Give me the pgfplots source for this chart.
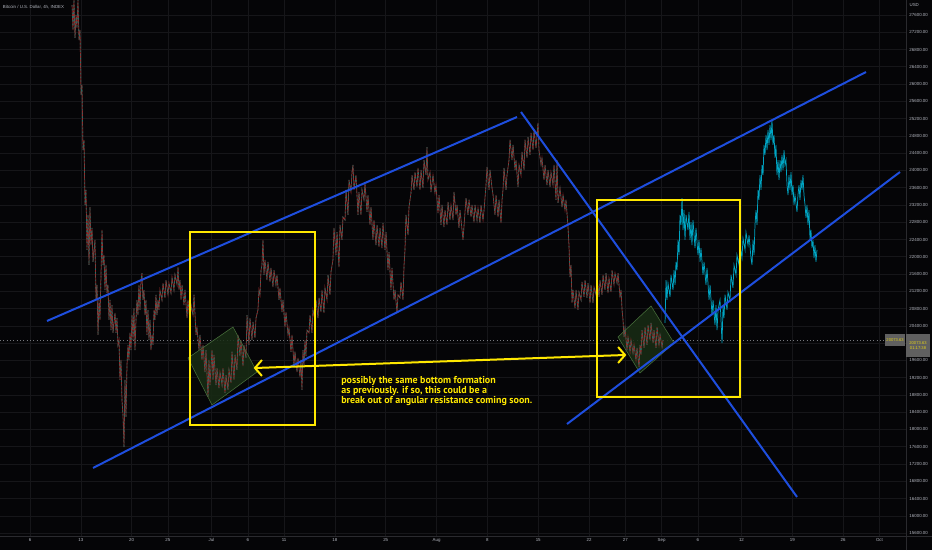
\documentclass[border=0pt]{standalone}
\usepackage{fontspec}
\setmainfont{Liberation Sans}
\newfontfamily\annfont{PT Sans}
\usepackage{pgfplots}
\usepackage{pgfplotstable}
\pgfplotsset{compat=1.18}
\definecolor{bg}{RGB}{5,5,7}
\definecolor{gridc}{RGB}{22,22,25}
\definecolor{sepc}{RGB}{42,42,46}
\definecolor{tickc}{RGB}{178,181,190}
\definecolor{bluel}{RGB}{30,78,222}
\definecolor{yell}{RGB}{255,232,0}
\definecolor{candr}{RGB}{150,42,42}
\definecolor{candt}{RGB}{30,115,105}
\definecolor{cyanc}{RGB}{0,165,195}
\definecolor{gfill}{RGB}{24,44,20}
\definecolor{gedge}{RGB}{72,112,60}

\pgfplotstableread{
d p
10.79 27830
10.92 27250
11.06 27950
11.20 27070
11.34 27600
11.47 27300
11.61 27950
11.75 27020
11.89 27250
12.03 25750
12.16 25980
12.30 24470
12.44 24700
12.58 23200
12.71 23550
12.85 22160
12.99 22970
13.13 21810
13.26 23150
13.40 22270
13.54 22670
13.68 21880
13.95 22390
14.09 21000
14.23 21350
14.37 20190
14.50 21000
14.64 20540
14.78 21580
14.92 22620
15.05 21810
15.19 22040
15.33 21230
15.47 21810
15.60 21160
15.74 21350
15.88 20540
16.02 21000
16.16 20300
16.29 20880
16.43 20240
16.71 20700
16.85 20240
16.98 20580
17.12 19960
17.26 20070
17.39 19150
17.53 19610
17.67 18680
17.81 18340
17.95 17590
18.08 19150
18.22 18290
18.36 19490
18.50 19960
18.63 19610
18.77 20240
18.91 19840
19.05 20650
19.19 20070
19.32 20810
19.46 19840
19.60 20540
19.74 21000
19.87 20650
20.01 21350
20.15 20770
20.29 21460
20.42 21620
20.56 21000
20.70 21230
20.84 20650
20.97 21000
21.11 20190
21.25 20770
21.39 20070
21.53 20540
21.66 19840
21.80 20190
21.94 19960
22.08 20770
22.21 20540
22.35 21120
22.49 20650
22.63 21000
22.76 20770
22.90 21230
23.18 21000
23.32 21390
23.59 21050
23.73 21460
24.01 21120
24.14 21390
24.42 21160
24.56 21530
24.83 21230
24.97 21580
25.25 21350
25.39 21760
25.52 21230
25.66 21460
25.80 21000
25.94 21350
26.21 20880
26.35 21230
26.63 20580
26.76 21000
27.04 20490
27.18 20880
27.45 20650
27.59 21120
27.87 20190
28.00 20350
28.28 19840
28.41 20190
28.69 19610
28.83 19960
29.10 19330
29.24 19840
29.52 18750
29.65 19610
29.79 19030
30.07 19840
30.21 19150
30.34 19730
30.62 19030
30.76 19420
31.03 18960
31.17 19330
31.45 19030
31.58 19420
31.86 18850
32.00 19260
32.27 18920
32.41 19380
32.69 19080
32.82 19800
33.10 19150
33.24 19730
33.51 19380
33.65 20190
33.92 19700
34.06 20070
34.34 19470
34.47 19960
34.75 19660
34.89 20650
35.16 19960
35.30 20580
35.58 20070
35.72 20490
35.99 20120
36.13 20580
36.40 20770
36.54 21230
36.68 21120
36.82 21690
36.95 21810
37.09 22390
37.23 21580
37.37 21930
37.64 21460
37.78 21880
38.06 21420
38.19 21740
38.47 21300
38.61 21690
38.88 21350
39.02 21580
39.30 21000
39.43 21280
39.71 20720
39.85 21000
40.12 20370
40.26 20720
40.54 20190
40.67 20350
40.95 19800
41.09 20190
41.36 19490
41.50 19800
41.78 19330
41.91 19660
42.19 19220
42.33 19610
42.46 18920
42.60 19840
42.74 19490
42.88 20070
43.01 19700
43.15 20300
43.43 20240
43.57 20650
43.84 20240
43.98 20770
44.25 20540
44.39 21000
44.67 20580
44.81 21050
45.08 20720
45.22 21230
45.49 20700
45.63 21280
45.91 21000
46.05 21580
46.32 21120
46.46 21650
46.73 21930
46.87 22670
47.15 22040
47.29 22570
47.56 21760
47.70 22740
47.97 22390
48.11 22920
48.39 22850
48.53 23550
48.80 22970
48.94 23780
49.21 23500
49.35 23960
49.49 24130
49.63 23550
49.90 23890
50.18 22970
50.31 23500
50.59 22970
50.73 23550
51.00 23320
51.14 23710
51.42 23040
51.55 23430
51.83 22740
51.97 23150
52.24 22390
52.38 22850
52.66 22270
52.80 22740
53.07 22230
53.21 22670
53.48 22200
53.62 22780
53.90 22160
54.04 22570
54.31 21690
54.45 22110
54.72 21230
54.86 21740
55.14 21000
55.28 21230
55.55 20700
55.69 21120
55.96 21050
56.10 21420
56.38 21000
56.52 21810
56.65 22160
56.79 22970
57.07 22500
57.20 23150
57.48 23480
57.62 23890
57.89 23550
58.03 23960
58.31 23620
58.44 24060
58.72 23550
58.86 24010
59.13 23590
59.27 24240
59.55 23890
59.68 24540
59.82 23780
60.10 23960
60.23 23500
60.51 23890
60.78 23480
60.92 23660
61.20 23010
61.34 23430
61.61 22740
61.75 23200
62.02 22690
62.16 23080
62.44 22740
62.58 23270
62.85 22850
62.99 23200
63.27 22850
63.40 23500
63.68 22970
63.82 23200
64.09 22670
64.23 23080
64.51 22620
64.64 22390
64.92 23040
65.06 23360
65.33 22970
65.47 23320
65.75 22920
65.88 23200
66.16 22800
66.30 23200
66.57 22850
66.71 23130
66.98 22780
67.12 23200
67.40 22850
67.54 23080
67.81 23660
67.95 24080
68.23 23550
68.36 24010
68.64 23590
68.78 23430
69.05 22970
69.19 23430
69.47 22920
69.60 23320
69.88 22780
70.02 23320
70.15 23550
70.29 24060
70.57 23550
70.70 23890
70.98 24240
71.12 24710
71.39 24240
71.53 24590
71.81 24010
71.94 24240
72.22 23620
72.36 24130
72.63 23890
72.77 24430
73.05 24010
73.18 24710
73.46 24290
73.60 24770
73.87 24360
74.01 24870
74.29 24470
74.42 24940
74.70 24520
74.84 24820
74.97 25100
75.11 24470
75.39 24130
75.52 24290
75.80 23780
75.94 24130
76.21 23660
76.35 24010
76.63 23620
76.76 23960
77.04 23660
77.18 24130
77.45 23320
77.59 24240
77.73 23250
78.00 23590
78.28 23150
78.42 23430
78.69 23080
78.83 23320
79.11 22670
79.24 22270
79.38 21530
79.52 21810
79.66 20930
79.79 21230
80.07 20810
80.21 21230
80.48 20770
80.62 21180
80.90 21000
81.03 21420
81.31 21070
81.45 21460
81.72 21050
81.86 21390
82.14 20930
82.27 21350
82.55 20930
82.69 21300
82.96 21120
83.10 21530
83.38 21070
83.51 21460
83.79 21120
83.93 21580
84.20 21230
84.34 21620
84.62 21160
84.75 21510
85.03 21180
85.17 21690
85.44 21350
85.58 21620
85.86 21390
86.00 21620
86.27 21070
86.41 21230
86.55 20770
86.68 20540
86.82 20140
86.96 20350
87.23 19840
87.37 20140
87.65 19800
87.78 20070
88.06 19770
88.20 19960
88.47 19610
88.61 19890
88.89 19450
89.02 19960
89.16 19730
89.30 20300
89.58 19890
89.71 20370
89.99 19960
90.13 20420
90.40 20070
90.54 20470
90.82 20000
90.95 20300
91.23 19890
91.37 20370
91.64 19960
91.78 20190
92.06 19910
92.19 20070
}\realprice

\pgfplotstableread{
d p
92.47 20470
92.61 21460
92.74 21000
92.88 21390
93.16 21070
93.29 21580
93.57 21230
93.71 21690
93.85 21350
93.98 21880
94.12 21690
94.26 22390
94.40 22040
94.53 22970
94.67 22740
94.81 23360
94.95 22620
95.08 23080
95.22 22390
95.36 22970
95.63 22620
95.77 23040
95.91 22390
96.05 22800
96.18 22270
96.32 22850
96.60 22200
96.73 22670
97.01 22040
97.15 22390
97.29 21880
97.42 22200
97.70 21580
97.84 21880
98.11 21350
98.25 21740
98.53 21000
98.67 21350
98.94 20650
99.08 21000
99.35 20420
99.49 20880
99.63 20300
99.77 20770
100.04 21000
100.18 20540
100.32 20000
100.46 20880
100.59 20580
100.73 21120
101.01 20770
101.14 21180
101.42 21000
101.56 21580
101.83 21280
101.97 21810
102.25 21580
102.38 22040
102.66 21810
102.80 22270
103.07 21970
103.21 22430
103.49 22160
103.62 22570
103.90 22270
104.04 22500
104.31 21970
104.45 21810
104.59 22390
104.73 22040
104.86 22740
105.00 23080
105.14 22740
105.28 23550
105.41 23320
105.55 23890
105.69 23550
105.83 24130
105.97 23890
106.10 24590
106.24 24360
106.38 24820
106.52 24470
106.65 24940
106.79 24590
106.93 25050
107.07 24700
107.20 25170
107.34 24590
107.48 24820
107.62 24290
107.75 24590
107.89 23890
108.03 24240
108.17 23780
108.31 24240
108.44 23960
108.58 24360
108.72 24010
108.86 24470
108.99 24130
109.13 24240
109.27 23660
109.41 23430
109.54 23890
109.68 23550
109.82 23960
109.96 23430
110.10 23660
110.23 23200
110.37 23430
110.65 23040
110.78 23430
110.92 23660
111.06 23320
111.20 23780
111.34 23550
111.47 23890
111.61 23430
111.75 23200
111.89 22900
112.02 23200
112.16 22740
112.30 23080
112.44 22390
112.57 22620
112.71 22200
112.85 22390
112.99 21970
113.12 22270
113.26 21880
113.40 22160
}\projprice

\begin{document}
\begin{tikzpicture}
\useasboundingbox (0,0) rectangle (699pt,412.5pt);
\fill[bg] (0,0) rectangle (699pt,412.5pt);
\begin{axis}[
  at={(0,10.5pt)}, anchor=south west,
  width=679.5pt, height=402pt, scale only axis,
  xmin=0.868, xmax=125.66, ymin=15533, ymax=27947,
  axis line style={draw=none},
  major tick length=0pt,
  grid=major,
  major grid style={draw=gridc, line width=0.45pt},
  xtick={5,12,19,24,30,35,40,47,54,61,68,75,82,87,92,97,103,110,117,122},
  xticklabels={6,13,20,25,Jul,6,11,18,25,Aug,8,15,22,27,Sep,6,12,19,26,Oct},
  xticklabel style={font=\fontsize{3.3}{4}\selectfont, text=tickc, anchor=north, inner sep=0pt, yshift=-1.6pt},
  ytick={15600,16000,...,27600},
  yticklabel pos=right,
  yticklabel style={font=\fontsize{3.3}{4}\selectfont, text=tickc, anchor=west, inner sep=0pt, xshift=2.4pt,
    /pgf/number format/.cd, fixed, fixed zerofill, precision=2, 1000 sep={}, assume math mode=true},
  scaled y ticks=false,
  clip=true,
]
% current price dotted line
\draw[tickc!65!black, dotted, line width=0.5pt] (axis cs:0.868,20073) -- (axis cs:125.66,20073);
% green rotated rectangles
\fill[gfill, fill opacity=0.85] (axis cs:26.76,19656) -- (axis cs:32.96,20374) -- (axis cs:36.27,19332) -- (axis cs:30.07,18567) -- cycle;
\fill[gfill, fill opacity=0.85] (axis cs:85.99,20142) -- (axis cs:90.54,20860) -- (axis cs:93.71,20003) -- (axis cs:89.02,19308) -- cycle;
% price
\addplot[candr, line width=0.55pt] table[x=d, y=p] {\realprice};
\addplot[candt, line width=0.45pt, dash pattern=on 1.2pt off 1.6pt] table[x=d, y=p] {\realprice};
\addplot[cyanc, line width=0.55pt] table[x=d, y=p] {\projprice};
% green rectangle edges on top
\draw[gedge, line width=0.4pt] (axis cs:26.76,19656) -- (axis cs:32.96,20374) -- (axis cs:36.27,19332) -- (axis cs:30.07,18567) -- cycle;
\draw[gedge, line width=0.4pt] (axis cs:85.99,20142) -- (axis cs:90.54,20860) -- (axis cs:93.71,20003) -- (axis cs:89.02,19308) -- cycle;
% blue trend lines
\draw[bluel, line width=1.5pt] (axis cs:7.34,20513) -- (axis cs:72.08,25237);
\draw[bluel, line width=1.5pt] (axis cs:13.68,17108) -- (axis cs:120.15,26279);
\draw[bluel, line width=1.5pt] (axis cs:72.63,25353) -- (axis cs:110.65,16436);
\draw[bluel, line width=1.5pt] (axis cs:78.97,18127) -- (axis cs:124.83,23963);
% yellow boxes
\draw[yell, line width=1.5pt] (axis cs:27.04,18104) rectangle (axis cs:44.26,22574);
\draw[yell, line width=1.5pt] (axis cs:83.10,18752) rectangle (axis cs:102.80,23315);
% yellow double arrow
\draw[yell, line width=1.5pt] (axis cs:35.99,19424) -- (axis cs:86.96,19725);
\draw[yell, line width=1.5pt] (axis cs:36.95,19610) -- (axis cs:35.99,19424) -- (axis cs:36.95,19240);
\draw[yell, line width=1.5pt] (axis cs:86.00,19910) -- (axis cs:86.96,19725) -- (axis cs:86.00,19540);
% annotation text
\node[anchor=north west, inner sep=0pt, align=left, text=yell, font=\annfont\bfseries\fontsize{7.5}{7.6}\selectfont]
  at (axis cs:47.84,19240) {possibly the same bottom formation\\as previously. if so, this could be a\\break out of angular resistance coming soon.};
\end{axis}
% separators
\draw[sepc, line width=0.6pt] (0,10.5pt) -- (699pt,10.5pt);
\draw[sepc, line width=0.6pt] (679.5pt,0) -- (679.5pt,412.5pt);
% title and currency
\node[anchor=west, inner sep=0pt, text=tickc, font=\fontsize{3.3}{4}\selectfont] at (2pt,407.3pt) {Bitcoin / U.S. Dollar, 4h, INDEX};
\node[anchor=west, inner sep=0pt, text=tickc, font=\fontsize{3.3}{4}\selectfont] at (682pt,408.5pt) {USD};
% last price labels
\fill[gray!75!black] (663.5pt,153pt) rectangle (679pt,162pt);
\fill[gray!75!black] (679.5pt,144.75pt) rectangle (697.5pt,162pt);
\node[inner sep=0pt, text=yell!80!gray, font=\fontsize{3.1}{3.6}\selectfont] at (671.3pt,157.5pt) {20073.63};
\node[inner sep=0pt, text=yell!80!gray, font=\fontsize{3.1}{3.6}\selectfont, align=center] at (688.5pt,153.4pt) {20073.63\\01:17:38};
\end{tikzpicture}
\end{document}
